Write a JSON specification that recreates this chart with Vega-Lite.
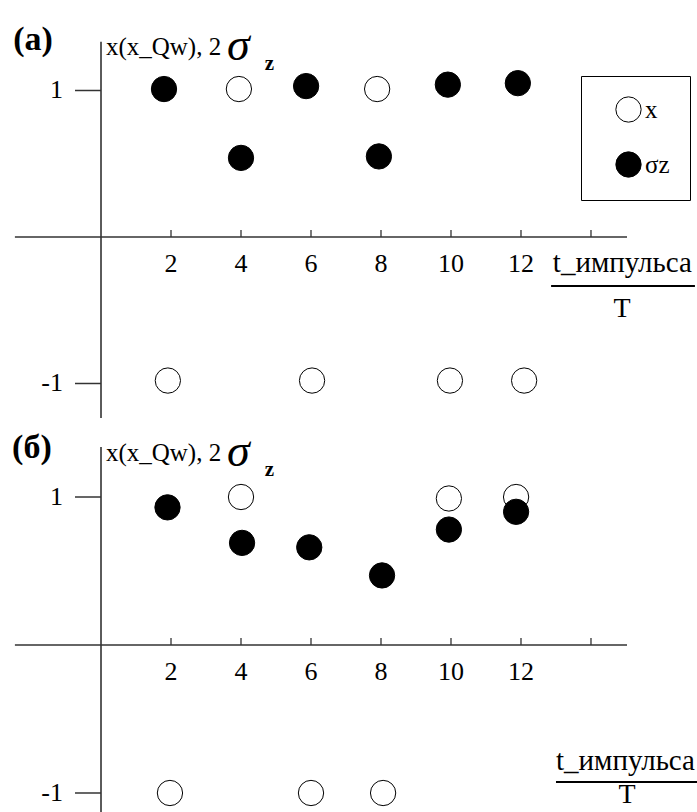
{
  "$schema": "https://vega.github.io/schema/vega-lite/v6.json",
  "padding": 0,
  "spacing": 0,
  "bounds": "flush",
  "background": "white",
  "config": {
    "view": {"stroke": null},
    "font": "Liberation Serif",
    "text": {"font": "Liberation Serif", "color": "black"}
  },
  "resolve": {"scale": {"fill": "independent", "x": "independent", "y": "independent"}, "legend": {"fill": "independent"}},
  "vconcat": [
    {
      "width": 697,
      "height": 425,
      "encoding": {
        "x": {"field": "t", "type": "quantitative", "axis": null, "scale": {"domain": [-2.886, 17.029], "nice": false, "zero": false}},
        "y": {"field": "v", "type": "quantitative", "axis": null, "scale": {"domain": [-1.2833, 1.6177], "nice": false, "zero": false}}
      },
      "layer": [
        {
          "data": {"values": [
            {"t": -2.46, "v": 0, "t2": 15.03, "v2": 0},
            {"t": 0, "v": 1.333, "t2": 0, "v2": -1.235}
          ]},
          "mark": {"type": "rule", "stroke": "#333333", "strokeWidth": 1.6},
          "encoding": {"x2": {"field": "t2"}, "y2": {"field": "v2"}}
        },
        {
          "data": {"values": [{"t": 2, "v": 0}, {"t": 4, "v": 0}, {"t": 6, "v": 0}, {"t": 8, "v": 0}, {"t": 10, "v": 0}, {"t": 12, "v": 0}, {"t": 14, "v": 0}]},
          "mark": {"type": "rule", "stroke": "#333333", "strokeWidth": 1.3, "y2Offset": -7},
          "encoding": {"y2": {"field": "v"}}
        },
        {
          "data": {"values": [{"t": 0, "v": 1, "label": "1"}, {"t": 0, "v": -1, "label": "-1"}]},
          "layer": [
            {"mark": {"type": "rule", "stroke": "#333333", "strokeWidth": 1.5, "x2Offset": -26}, "encoding": {"x2": {"field": "t"}}},
            {"mark": {"type": "text", "font": "Liberation Serif", "align": "right", "baseline": "middle", "dx": -38, "fontSize": 26}, "encoding": {"text": {"field": "label"}}}
          ]
        },
        {
          "data": {"values": [{"t": 2, "v": 0, "label": "2"}, {"t": 4, "v": 0, "label": "4"}, {"t": 6, "v": 0, "label": "6"}, {"t": 8, "v": 0, "label": "8"}, {"t": 10, "v": 0, "label": "10"}, {"t": 12, "v": 0, "label": "12"}]},
          "mark": {"type": "text", "font": "Liberation Serif", "align": "center", "baseline": "alphabetic", "dy": 35, "fontSize": 26},
          "encoding": {"text": {"field": "label"}}
        },
        {
          "data": {"values": [
            {"t": 3.94, "v": 1.01, "series": "x"},
            {"t": 7.89, "v": 1.01, "series": "x"},
            {"t": 1.91, "v": -0.98, "series": "x"},
            {"t": 6.03, "v": -0.98, "series": "x"},
            {"t": 9.97, "v": -0.98, "series": "x"},
            {"t": 12.09, "v": -0.98, "series": "x"},
            {"t": 1.8, "v": 1.01, "series": "σz"},
            {"t": 4.0, "v": 0.54, "series": "σz"},
            {"t": 5.86, "v": 1.03, "series": "σz"},
            {"t": 7.94, "v": 0.55, "series": "σz"},
            {"t": 9.91, "v": 1.04, "series": "σz"},
            {"t": 11.91, "v": 1.05, "series": "σz"}
          ]},
          "mark": {"type": "point", "shape": "circle", "filled": true, "size": 640, "stroke": "black", "strokeWidth": 1, "opacity": 1},
          "encoding": {
            "fill": {
              "field": "series", "type": "nominal",
              "scale": {"domain": ["x", "σz"], "range": ["white", "black"]},
              "legend": {
                "orient": "none", "legendX": 581, "legendY": 76, "title": null,
                "padding": 20, "strokeColor": "black", "fillColor": "white",
                "symbolType": "circle", "symbolSize": 640, "symbolStrokeColor": "black", "symbolStrokeWidth": 1,
                "labelFont": "Liberation Serif", "labelFontSize": 25, "labelColor": "black", "labelOffset": 3,
                "rowPadding": 24, "symbolOffset": 14,
                "encode": {"legend": {"update": {"strokeWidth": {"value": 1.5}}}}
              }
            }
          }
        },
        {
          "data": {"values": [{"t": -2.51, "v": 1.276, "label": "(a)"}]},
          "mark": {"type": "text", "font": "Liberation Serif", "align": "left", "baseline": "alphabetic", "fontSize": 34, "fontWeight": "bold"},
          "encoding": {"text": {"field": "label"}}
        },
        {
          "data": {"values": [{"t": 0.14, "v": 1.242, "label": "x(x_Qw), 2"}]},
          "mark": {"type": "text", "font": "Liberation Serif", "align": "left", "baseline": "alphabetic", "fontSize": 25},
          "encoding": {"text": {"field": "label"}}
        },
        {
          "data": {"values": [{"t": 12.91, "v": -0.239, "label": "t_импульса"}]},
          "mark": {"type": "text", "font": "Liberation Serif", "align": "left", "baseline": "alphabetic", "fontSize": 29},
          "encoding": {"text": {"field": "label"}}
        },
        {
          "data": {"values": [{"t": 3.6, "v": 1.21, "label": "σ"}]},
          "mark": {"type": "text", "font": "Liberation Serif", "align": "left", "baseline": "alphabetic", "fontSize": 46, "fontStyle": "italic"},
          "encoding": {"text": {"field": "label"}}
        },
        {
          "data": {"values": [{"t": 4.68, "v": 1.14, "label": "z"}]},
          "mark": {"type": "text", "font": "Liberation Serif", "align": "left", "baseline": "alphabetic", "fontSize": 21, "fontWeight": "bold"},
          "encoding": {"text": {"field": "label"}}
        },
        {
          "data": {"values": [{"t": 12.86, "v": -0.334, "t2": 16.97, "v2": -0.334}]},
          "mark": {"type": "rule", "stroke": "black", "strokeWidth": 2},
          "encoding": {"x2": {"field": "t2"}, "y2": {"field": "v2"}}
        },
        {
          "data": {"values": [{"t": 14.89, "v": -0.546, "label": "T"}]},
          "mark": {"type": "text", "font": "Liberation Serif", "align": "center", "baseline": "alphabetic", "fontSize": 28},
          "encoding": {"text": {"field": "label"}}
        }
      ]
    },
    {
      "width": 697,
      "height": 387,
      "encoding": {
        "x": {"field": "t", "type": "quantitative", "axis": null, "scale": {"domain": [-2.886, 17.029], "nice": false, "zero": false}},
        "y": {"field": "v", "type": "quantitative", "axis": null, "scale": {"domain": [-1.1284, 1.4865], "nice": false, "zero": false}}
      },
      "layer": [
        {
          "data": {"values": [
            {"t": -2.46, "v": 0, "t2": 15.03, "v2": 0},
            {"t": 0, "v": 1.338, "t2": 0, "v2": -1.1284}
          ]},
          "mark": {"type": "rule", "stroke": "#333333", "strokeWidth": 1.6},
          "encoding": {"x2": {"field": "t2"}, "y2": {"field": "v2"}}
        },
        {
          "data": {"values": [{"t": 2, "v": 0}, {"t": 4, "v": 0}, {"t": 6, "v": 0}, {"t": 8, "v": 0}, {"t": 10, "v": 0}, {"t": 12, "v": 0}, {"t": 14, "v": 0}]},
          "mark": {"type": "rule", "stroke": "#333333", "strokeWidth": 1.3, "y2Offset": -7},
          "encoding": {"y2": {"field": "v"}}
        },
        {
          "data": {"values": [{"t": 0, "v": 1, "label": "1"}, {"t": 0, "v": -1, "label": "-1"}]},
          "layer": [
            {"mark": {"type": "rule", "stroke": "#333333", "strokeWidth": 1.5, "x2Offset": -26}, "encoding": {"x2": {"field": "t"}}},
            {"mark": {"type": "text", "font": "Liberation Serif", "align": "right", "baseline": "middle", "dx": -38, "fontSize": 26}, "encoding": {"text": {"field": "label"}}}
          ]
        },
        {
          "data": {"values": [{"t": 2, "v": 0, "label": "2"}, {"t": 4, "v": 0, "label": "4"}, {"t": 6, "v": 0, "label": "6"}, {"t": 8, "v": 0, "label": "8"}, {"t": 10, "v": 0, "label": "10"}, {"t": 12, "v": 0, "label": "12"}]},
          "mark": {"type": "text", "font": "Liberation Serif", "align": "center", "baseline": "alphabetic", "dy": 35, "fontSize": 26},
          "encoding": {"text": {"field": "label"}}
        },
        {
          "data": {"values": [
            {"t": 4.0, "v": 1.0, "series": "x"},
            {"t": 9.94, "v": 0.99, "series": "x"},
            {"t": 11.86, "v": 1.0, "series": "x"},
            {"t": 1.97, "v": -1.0, "series": "x"},
            {"t": 6.0, "v": -1.0, "series": "x"},
            {"t": 8.06, "v": -1.0, "series": "x"},
            {"t": 1.9, "v": 0.93, "series": "σz"},
            {"t": 4.03, "v": 0.69, "series": "σz"},
            {"t": 5.95, "v": 0.66, "series": "σz"},
            {"t": 8.03, "v": 0.47, "series": "σz"},
            {"t": 9.94, "v": 0.78, "series": "σz"},
            {"t": 11.86, "v": 0.9, "series": "σz"}
          ]},
          "mark": {"type": "point", "shape": "circle", "filled": true, "size": 640, "stroke": "black", "strokeWidth": 1, "opacity": 1},
          "encoding": {
            "fill": {
              "field": "series", "type": "nominal",
              "scale": {"domain": ["x", "σz"], "range": ["white", "black"]},
              "legend": null
            }
          }
        },
        {
          "data": {"values": [{"t": -2.54, "v": 1.264, "label": "(б)"}]},
          "mark": {"type": "text", "font": "Liberation Serif", "align": "left", "baseline": "alphabetic", "fontSize": 34, "fontWeight": "bold"},
          "encoding": {"text": {"field": "label"}}
        },
        {
          "data": {"values": [{"t": 0.14, "v": 1.243, "label": "x(x_Qw), 2"}]},
          "mark": {"type": "text", "font": "Liberation Serif", "align": "left", "baseline": "alphabetic", "fontSize": 25},
          "encoding": {"text": {"field": "label"}}
        },
        {
          "data": {"values": [{"t": 13.0, "v": -0.845, "label": "t_импульса"}]},
          "mark": {"type": "text", "font": "Liberation Serif", "align": "left", "baseline": "alphabetic", "fontSize": 29},
          "encoding": {"text": {"field": "label"}}
        },
        {
          "data": {"values": [{"t": 3.6, "v": 1.209, "label": "σ"}]},
          "mark": {"type": "text", "font": "Liberation Serif", "align": "left", "baseline": "alphabetic", "fontSize": 46, "fontStyle": "italic"},
          "encoding": {"text": {"field": "label"}}
        },
        {
          "data": {"values": [{"t": 4.68, "v": 1.142, "label": "z"}]},
          "mark": {"type": "text", "font": "Liberation Serif", "align": "left", "baseline": "alphabetic", "fontSize": 21, "fontWeight": "bold"},
          "encoding": {"text": {"field": "label"}}
        },
        {
          "data": {"values": [{"t": 13.0, "v": -0.926, "t2": 17.03, "v2": -0.926}]},
          "mark": {"type": "rule", "stroke": "black", "strokeWidth": 2},
          "encoding": {"x2": {"field": "t2"}, "y2": {"field": "v2"}}
        },
        {
          "data": {"values": [{"t": 15.03, "v": -1.068, "label": "T"}]},
          "mark": {"type": "text", "font": "Liberation Serif", "align": "center", "baseline": "alphabetic", "fontSize": 28},
          "encoding": {"text": {"field": "label"}}
        }
      ]
    }
  ]
}
